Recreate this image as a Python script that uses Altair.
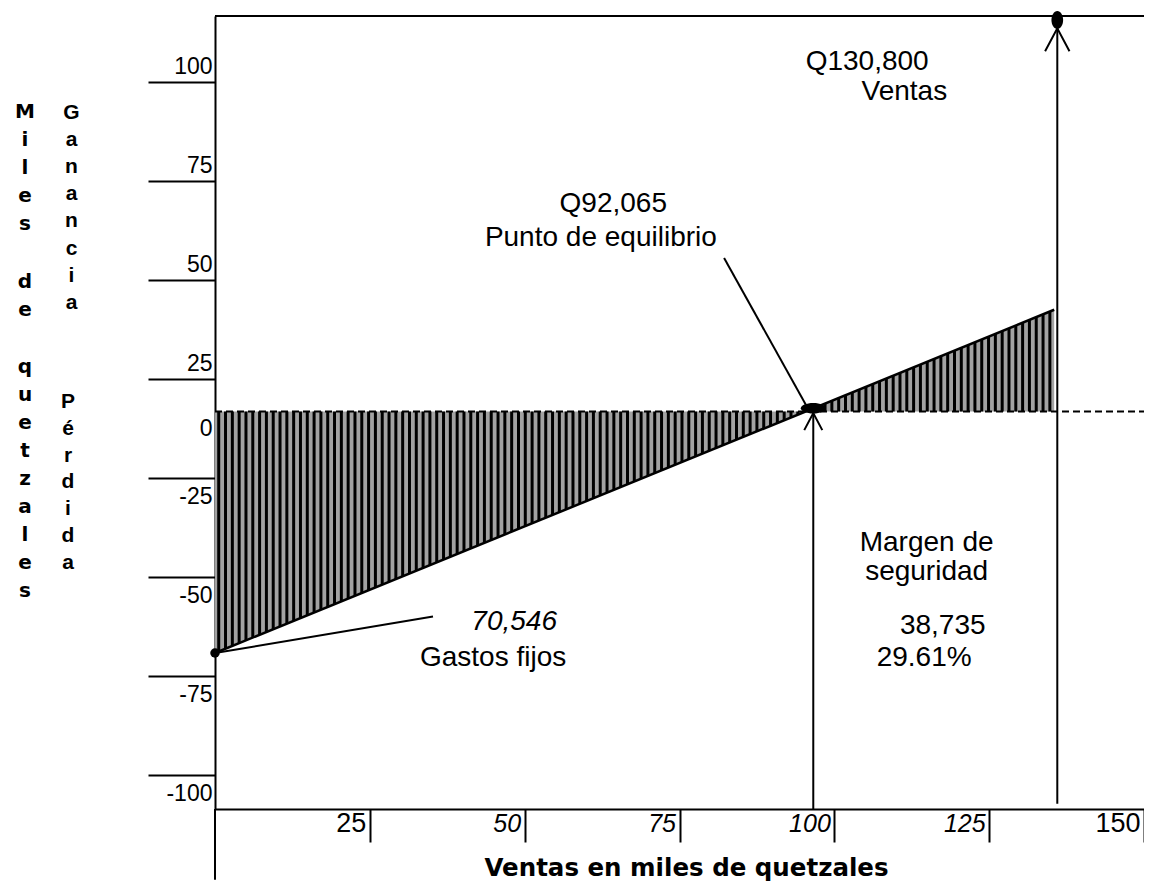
import altair as alt
import pandas as pd

FONT = "Liberation Sans"

# ---- axis ticks / labels -------------------------------------------------
x_ticks = [25, 50, 75, 100, 125, 150]
y_tick_values = [87.5, 62.5, 37.5, 12.5, 0, -12.5, -37.5, -62.5, -87.5]
y_tick_labels = ["100", "75", "50", "25", "0", "-25", "-50", "-75", "-100"]

X_DOMAIN = [0, 150]
Y_DOMAIN = [-96.1, 104.2]

# ---- data ---------------------------------------------------------------
line_x = [0, 135.5]          # profit / loss line
line_y = [-56.7, 30.0]
zero_level = 4.3             # dashed break-even level

breakeven_x = 96.6
breakeven_y = 5.1
breakeven_arrow_y = 3.9
sales_x = 136.0
sales_y = 103.2
sales_arrow_y = 101.1
sales_line_bottom = -94.8
fixed_x = 0.0
fixed_y = -56.7

# leader lines (start, end)
lead_fixed = [(0.0, -56.7), (35.2, -47.5)]
lead_be = [(82.2, 43.1), (95.4, 6.0)]

ann_text = ["Q92,065", "Punto de equilibrio", "Q130,800", "Ventas", "70,546",
            "Gastos fijos", "Margen de", "seguridad", "38,735", "29.61%"]
ann_x = [64.3, 62.3, 105.3, 111.3, 48.3, 44.9, 114.9, 114.9, 117.5, 114.5]
ann_y = [56.7, 48.2, 92.7, 85.1, -48.9, -57.9, -28.9, -36.2, -49.8, -57.9]
ann_style = ["normal", "normal", "normal", "normal", "italic",
             "normal", "normal", "normal", "normal", "normal"]

# vertical (stacked-letter) y titles: words and the pixel row of their first letter
col1_words = ["Miles", "de", "quetzales"]
col1_rows = [96, 266, 351]
col2_words = ["Ganancia", "Pérdida"]
col2_rows = [97, 386]

# ---- scales & axes -------------------------------------------------------
xs = alt.Scale(domain=X_DOMAIN, nice=False, zero=False)
ys = alt.Scale(domain=Y_DOMAIN, nice=False, zero=False)

label_expr = " : ".join(
    f"datum.value == {v} ? '{l}'" for v, l in zip(y_tick_values, y_tick_labels)
) + " : ''"

x_axis = alt.Axis(
    values=x_ticks, tickSize=33, tickWidth=2, tickColor="black",
    labelAlign="right", labelBaseline="middle", labelPadding=-19, labelOffset=-4,
    labelFontSize={"expr": "datum.value == 25 || datum.value == 150 ? 27 : 25"},
    labelFontStyle={"expr": "datum.value == 25 || datum.value == 150 ? 'normal' : 'italic'"},
    labelFlush=False, labelOverlap=False, labelColor="black", labelFont=FONT,
    domainColor="black", domainWidth=2, grid=False,
    title="Ventas en miles de quetzales", titleX=471, titleY=59,
    titleAlign="center", titleBaseline="middle", titleFontSize=24.5,
    titleFontWeight="bold", titleColor="black", titleFont="DejaVu Sans",
)
y_axis = alt.Axis(
    values=y_tick_values, labelExpr=label_expr, tickSize=67, tickWidth=2,
    tickColor="black", tickOpacity={"expr": "datum.value == 0 ? 0 : 1"},
    labelAlign="right", labelBaseline="middle", labelPadding=-64,
    labelOffset={"expr": "datum.value > 0 ? -15.5 : datum.value < 0 ? 18.5 : 0"},
    labelFontSize=23, labelColor="black", labelFont=FONT, labelFlush=False,
    labelOverlap=False, domainColor="black", domainWidth=2, grid=False, title=None,
)

X = alt.X("x:Q", scale=xs, axis=x_axis)
Y = alt.Y("y:Q", scale=ys, axis=y_axis)

# ---- tables --------------------------------------------------------------
line_df = pd.DataFrame({"x": line_x, "y": line_y, "y2": [zero_level] * len(line_x)})
slope = (line_y[1] - line_y[0]) / (line_x[1] - line_x[0])
icpt = line_y[0] - slope * line_x[0]

rules_df = pd.DataFrame([
    {"x": X_DOMAIN[0], "y": zero_level, "x2": X_DOMAIN[1], "y2": zero_level, "kind": "dash"},
    {"x": X_DOMAIN[0], "y": Y_DOMAIN[1], "x2": X_DOMAIN[1], "y2": Y_DOMAIN[1], "kind": "solid"},
    {"x": 0, "y": Y_DOMAIN[0], "x2": 0, "y2": -114.0, "kind": "solid"},
    {"x": breakeven_x, "y": Y_DOMAIN[0], "x2": breakeven_x, "y2": breakeven_arrow_y, "kind": "solid"},
    {"x": sales_x, "y": sales_line_bottom, "x2": sales_x, "y2": sales_arrow_y, "kind": "solid"},
    {"x": lead_fixed[0][0], "y": lead_fixed[0][1], "x2": lead_fixed[1][0], "y2": lead_fixed[1][1], "kind": "solid"},
    {"x": lead_be[0][0], "y": lead_be[0][1], "x2": lead_be[1][0], "y2": lead_be[1][1], "kind": "solid"},
])
solid_df = rules_df[rules_df.kind == "solid"]
dash_df = rules_df[rules_df.kind == "dash"]

ann_df = pd.DataFrame({"x": ann_x, "y": ann_y, "t": ann_text, "s": ann_style})
one = pd.DataFrame({"a": [0]})

# ---- layers --------------------------------------------------------------
area = alt.Chart(line_df).mark_area(color="#a2a2a2", opacity=1, clip=True).encode(
    x=X, y=Y, y2=alt.Y2("y2"))

stripes = alt.Chart(alt.sequence(0.6, line_x[1], 1.1, as_="x")).transform_calculate(
    y=f"{zero_level}", y2=f"{icpt} + {slope} * datum.x"
).mark_rule(color="black", strokeWidth=3).encode(x=X, y=Y, y2=alt.Y2("y2"))

dashed = alt.Chart(dash_df).mark_rule(color="black", strokeWidth=2, strokeDash=[7, 4]).encode(
    x=X, y=Y, x2=alt.X2("x2"), y2=alt.Y2("y2"))

profit = alt.Chart(line_df).mark_line(color="black", strokeWidth=2.5).encode(x=X, y=Y)

solids = alt.Chart(solid_df).mark_rule(color="black", strokeWidth=2).encode(
    x=X, y=Y, x2=alt.X2("x2"), y2=alt.Y2("y2"))

arrow_path = "M-0.53,1L0,0L0.53,1"
arrow_be = alt.Chart(pd.DataFrame({"x": [breakeven_x], "y": [breakeven_arrow_y]})).mark_point(
    shape=arrow_path, filled=False, color="black", strokeWidth=2, size=1156, opacity=1
).encode(x=X, y=Y)
arrow_sales = alt.Chart(pd.DataFrame({"x": [sales_x], "y": [sales_arrow_y]})).mark_point(
    shape=arrow_path, filled=False, color="black", strokeWidth=2, size=2116, opacity=1
).encode(x=X, y=Y)

dot_be = alt.Chart(pd.DataFrame({"x": [breakeven_x], "y": [breakeven_y]})).mark_point(
    shape="M-1,0A1,0.42 0 1,1 1,0A1,0.42 0 1,1 -1,0Z", filled=True, color="black",
    size=625, opacity=1).encode(x=X, y=Y)
dot_sales = alt.Chart(pd.DataFrame({"x": [sales_x], "y": [sales_y]})).mark_point(
    shape="M0,-1A0.65,1 0 1,1 0,1A0.65,1 0 1,1 0,-1Z", filled=True, color="black",
    size=324, opacity=1).encode(x=X, y=Y)
dot_fixed = alt.Chart(pd.DataFrame({"x": [fixed_x], "y": [fixed_y]})).mark_point(
    shape="circle", filled=True, color="black", size=90, opacity=1).encode(x=X, y=Y)

texts_n = alt.Chart(ann_df[ann_df.s == "normal"]).mark_text(
    font=FONT, fontSize=28, color="black", align="center", baseline="middle"
).encode(x=X, y=Y, text="t:N")
texts_i = alt.Chart(ann_df[ann_df.s == "italic"]).mark_text(
    font=FONT, fontSize=28, color="black", align="center", baseline="middle", fontStyle="italic"
).encode(x=X, y=Y, text="t:N")

stacked = []
for w, r in zip(col1_words, col1_rows):
    stacked.append(alt.Chart(one).mark_text(
        font="DejaVu Sans", fontSize=20, fontWeight="bold", color="black",
        align="center", baseline="middle", lineHeight=28.06
    ).encode(x=alt.value(-190), y=alt.value(r), text=alt.value(list(w))))
for w, r, xp, lh in zip(col2_words, col2_rows, [-143.5, -147], [27.1, 26.8]):
    stacked.append(alt.Chart(one).mark_text(
        font=FONT, fontSize=21, fontWeight="bold", color="black",
        align="center", baseline="middle", lineHeight=lh
    ).encode(x=alt.value(xp), y=alt.value(r), text=alt.value(list(w))))

chart = alt.layer(
    area, stripes, dashed, profit, solids, arrow_be, arrow_sales,
    dot_be, dot_sales, dot_fixed, texts_n, texts_i, *stacked
).properties(
    width=929, height=793,
    autosize=alt.AutoSizeParams(type="none"),
    padding={"left": 207, "top": 8, "right": 0, "bottom": 75},
    background="white",
).configure_view(stroke=None).configure(font=FONT)

chart.save("out.html", embed_options={"renderer": "svg", "actions": False})
